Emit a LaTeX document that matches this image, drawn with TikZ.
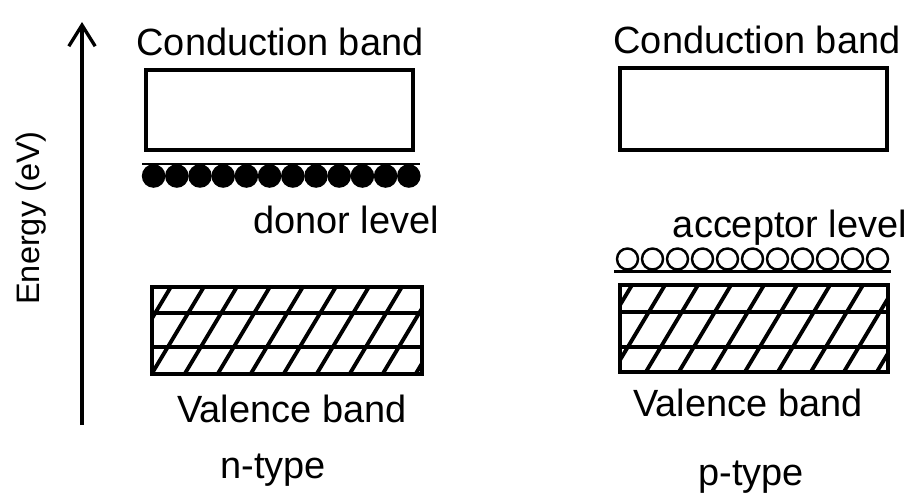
\documentclass[tikz,border=0pt]{standalone}
\usepackage{fontspec}
\setmainfont{Liberation Sans}
\usetikzlibrary{arrows.meta,positioning}
\tikzset{
  band/.style = {draw=black, line width=2.5pt, rectangle, minimum width=5.34cm, minimum height=1.6cm, inner sep=0pt},
  vband/.style = {band, minimum width=5.4cm, minimum height=1.74cm},
  lbl/.style = {inner sep=0pt, font=\fontsize{21.6}{24}\selectfont},
  hatch/.style = {line width=2.2pt},
  arrow/.style = {line width=1.9pt, -{Straight Barb[length=12pt,width=15pt,line width=1.9pt]}}
}
\begin{document}
\begin{tikzpicture}[x=0.02cm, y=-0.02cm]
\useasboundingbox (0,0) rectangle (908,500);

% energy axis
\coordinate (ebot) at (82,425);
\coordinate (etop) at (82,22);
\draw[arrow] (ebot) -- (etop);
\node[lbl, rotate=90, font=\fontsize{18.5}{20}\selectfont] (elbl) at (31,218) {Energy (eV)};

% n-type
\node[band] (cbn) at (279.5,110) {};
\node[lbl] (cbntxt) at (280,42) {Conduction band};
\draw[line width=1pt] (142,164) -- (420,164);
\foreach \i in {0,...,11}
  \fill (153.6+23.2*\i,176) circle[radius=0.236cm];
\node[lbl] (donor) at (346,220) {donor level};
\begin{scope}
  \clip (152,287) rectangle (422,374);
  \foreach \k in {-2,...,9}
    \draw[hatch] (100+33*\k,405) -- ++(75,-125);
  \draw[hatch] (152,313) -- (422,313);
  \draw[hatch] (152,347) -- (422,347);
\end{scope}
\node[vband] (vbn) at (287,330.5) {};
\node[lbl] (vbntxt) at (292,408.5) {Valence band};
\node[lbl] (ntype) at (273,470) {n-type};

% p-type
\node[band, minimum height=1.64cm] (cbp) at (753.5,109) {};
\node[lbl] (cbptxt) at (757,40) {Conduction band};
\node[lbl] (acceptor) at (790,228) {acceptor level};
\foreach \i in {0,...,10}
  \draw[line width=1.4pt] (627.5+25*\i,259) circle[radius=0.21cm];
\draw[line width=1.5pt] (614,271.5) -- (891,271.5);
\begin{scope}
  \clip (620,285) rectangle (888,372);
  \foreach \k in {-2,...,9}
    \draw[hatch] (560+33*\k,405) -- ++(75,-125);
  \draw[hatch] (620,312) -- (888,312);
  \draw[hatch] (620,347) -- (888,347);
\end{scope}
\node[vband, minimum width=5.36cm] (vbp) at (754,328.5) {};
\node[lbl] (vbptxt) at (748,402.5) {Valence band};
\node[lbl] (ptype) at (751,477) {p-type};
\end{tikzpicture}
\end{document}
